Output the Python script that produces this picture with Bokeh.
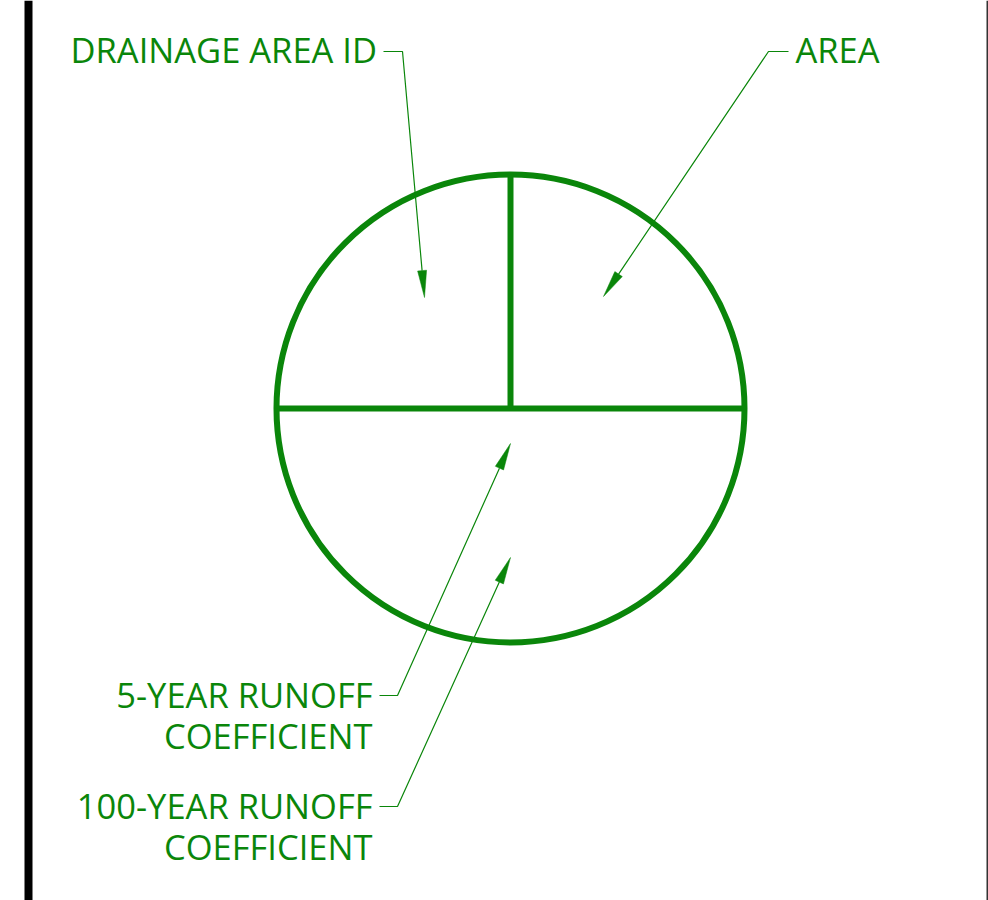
import math
from bokeh.plotting import figure
from bokeh.models import Range1d
from bokeh.core.properties import value
from bokeh.embed import file_html
from bokeh.resources import INLINE

# ---- content ----
label_lines = ["DRAINAGE AREA ID", "AREA", "5-YEAR RUNOFF", "COEFFICIENT", "100-YEAR RUNOFF", "COEFFICIENT"]
label_x = [70, 795, 372, 372, 372, 372]
label_y = [49, 49, 694, 735, 805, 846]
label_align = ["left", "left", "right", "right", "right", "right"]

# leaders: start (text end), elbow, arrow tip
lead_start_x = [383, 788, 379, 379]
lead_elbow_x = [402, 768, 397, 397]
lead_elbow_y = [51, 51, 695, 806]
lead_tip_x = [424, 603, 510, 510]
lead_tip_y = [297, 296, 443, 557]

# symbol geometry
cx, cy, r = 510, 408, 234

GREEN = "#0a860a"

W, H = 988, 900
p = figure(width=W, height=H, x_range=Range1d(0, W), y_range=Range1d(H, 0),
           output_backend="svg", toolbar_location=None, min_border=0,
           background_fill_color="white", border_fill_color="white")
p.axis.visible = False
p.grid.visible = False
p.outline_line_color = None

# frame bars
p.quad(left=[24], right=[32], top=[0], bottom=[H], fill_color="black", line_color=None)
p.segment(x0=[987], y0=[0], x1=[987], y1=[H], line_color="#333333", line_width=2)

# circle symbol
p.circle(x=[cx], y=[cy], radius=r, fill_color=None, line_color=GREEN, line_width=6)
p.segment(x0=[cx - r], y0=[cy], x1=[cx + r], y1=[cy], line_color=GREEN, line_width=6)
p.segment(x0=[cx], y0=[cy - r], x1=[cx], y1=[cy], line_color=GREEN, line_width=6)

# leaders
xs, ys, hx, hy = [], [], [], []
L, HW = 27, 4.5
for sx, ex, ey, tx, ty in zip(lead_start_x, lead_elbow_x, lead_elbow_y, lead_tip_x, lead_tip_y):
    dx, dy = tx - ex, ty - ey
    d = math.hypot(dx, dy)
    ux, uy = dx / d, dy / d
    bx, by = tx - L * ux, ty - L * uy
    xs.append([sx, ex, bx])
    ys.append([ey, ey, by])
    hx.append([tx, bx - HW * uy, bx + HW * uy])
    hy.append([ty, by + HW * ux, by - HW * ux])
p.multi_line(xs=xs, ys=ys, line_color=GREEN, line_width=1.2)
p.patches(xs=hx, ys=hy, fill_color=GREEN, line_color=GREEN, line_width=0.5)

# labels
p.text(x=label_x, y=label_y, text=label_lines, text_align=label_align,
       text_baseline="alphabetic", text_font=value("Open Sans"),
       text_font_size="34.5px", text_color=GREEN)

open("out.html", "w").write(file_html(p, INLINE))
